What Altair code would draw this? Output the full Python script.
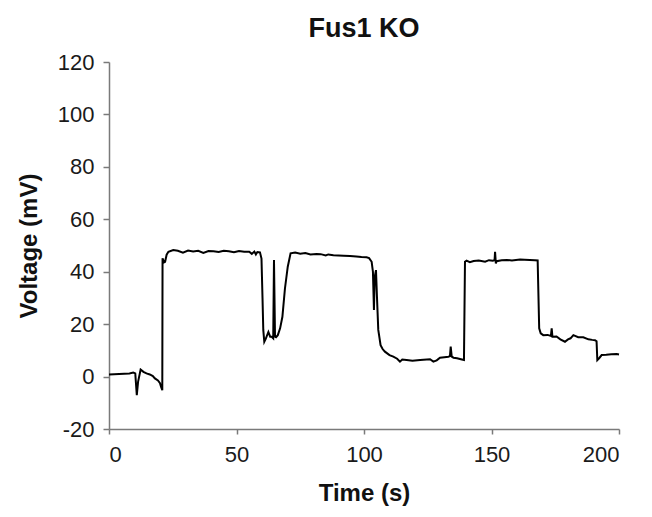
import altair as alt
import pandas as pd

# Time (s) and voltage (mV)
time_s = [0, 2, 4, 6, 8, 9.5, 10.3, 10.9, 11.4, 12.4, 13.5, 14.7, 16.0, 17.2, 18.0, 19.2, 20.0, 20.4, 20.9,
          21.0, 21.6, 22.0, 22.6, 23.3, 25.2, 27, 29, 31, 33, 35, 37, 39, 41, 43, 45, 47, 49, 51, 53, 55,
          56, 57, 57.6, 58.2, 59.2, 59.8, 60.2, 60.5, 60.9, 61.5, 62.5, 63.2, 63.8, 64.4, 64.7, 65.1, 65.5,
          66.2, 67.1, 68.0, 69.0, 70.1, 71.2, 73, 75, 77, 79, 81.4, 83, 85, 86, 88, 90, 92, 94.5, 97, 99,
          101, 102, 103, 103.5, 103.9, 104.2, 104.7, 105.1, 105.6, 106.5, 107.3, 108.2, 110, 111.5, 113,
          114.1, 115, 116.7, 119, 122, 125.9, 127.2, 128.5, 129.8, 131.5, 133.1, 133.7, 134.0, 134.4, 135.1,
          136.5, 138, 139.2, 139.6, 140.2, 141.5, 143, 145, 147.5, 149, 150.5, 151.2, 151.4, 151.7, 152,
          154, 156, 158, 161.2, 163, 165, 167, 168.1, 168.7, 169.3, 170.3, 172, 173.3, 173.6, 173.9, 175.5,
          177, 178.8, 180, 181, 182.1, 184, 186, 188, 189.5, 190.6, 191.2, 191.5, 192.2, 193.2, 195, 197,
          199.1, 200]
voltage_mv = [0.8, 0.9, 1.0, 1.1, 1.2, 1.5, 1.2, -7.1, -2.0, 2.7, 1.8, 1.2, 0.8, 0.2, -0.7, -1.5, -2.5, -3.9, -5.2,
              45.1, 43.6, 43.8, 46.5, 47.6, 48.3, 48.0, 47.3, 48.1, 47.7, 48.0, 47.2, 47.9, 47.8, 47.5, 48.0, 47.8, 47.4,
              47.9, 47.6, 47.6, 46.8, 47.7, 46.6, 47.5, 47.4, 45.0, 30.0, 17.8, 13.3, 14.5, 17.0, 15.2, 15.2, 14.6, 44.5,
              15.2, 15.0, 15.8, 18.4, 22.8, 33.6, 41.9, 47.0, 47.3, 46.9, 47.1, 46.6, 46.8, 46.7, 46.2, 46.6, 46.3, 46.2,
              46.1, 46.0, 45.8, 45.6, 45.5, 45.2, 43.8, 40.0, 25.4, 38.0, 40.6, 30.0, 17.8, 12.0, 10.5, 9.5, 8.2, 7.6,
              6.8, 5.7, 6.5, 6.3, 6.0, 6.3, 6.6, 5.7, 6.2, 7.2, 7.4, 7.6, 7.8, 11.4, 7.6, 7.2, 7.0, 6.6, 6.3, 43.8,
              44.2, 43.6, 44.1, 44.3, 43.8, 44.4, 44.2, 44.4, 47.6, 43.2, 44.0, 44.4, 44.5, 44.3, 44.7, 44.6, 44.5,
              44.4, 44.3, 18.4, 16.5, 15.8, 15.9, 15.5, 18.4, 15.2, 15.3, 14.2, 13.3, 14.2, 14.6, 15.8, 15.0, 15.0,
              14.2, 14.0, 13.9, 13.5, 6.3, 7.0, 8.2, 8.3, 8.5, 8.6, 8.4]

y_ticks = [-20, 0, 20, 40, 60, 80, 100, 120]
x_ticks = [0, 50, 100, 150, 200]

df = pd.DataFrame({"t": time_s, "v": voltage_mv})

FONT = "Liberation Sans"

chart = alt.Chart(df).mark_line(color="black", strokeWidth=2).encode(
    x=alt.X("t:Q", scale=alt.Scale(domain=[0, 200], nice=False),
            axis=alt.Axis(values=x_ticks, title="Time (s)", grid=False, tickSize=5,
                          labelPadding=10, titlePadding=16)),
    y=alt.Y("v:Q", scale=alt.Scale(domain=[-20, 120], nice=False),
            axis=alt.Axis(values=y_ticks, title="Voltage (mV)", grid=False, tickSize=6,
                          labelPadding=9, titlePadding=16, labelExpr="'' + datum.value")),
).properties(
    width=510, height=367,
    title=alt.Title("Fus1 KO", fontSize=27, font=FONT, fontWeight="bold", color="#111", offset=8),
    autosize=alt.AutoSizeParams(type="none"),
    padding={"left": 101, "top": 54, "right": 25, "bottom": 80},
).configure_view(stroke=None).configure_axis(
    domainColor="#7a7a7a", tickColor="#7a7a7a", domainWidth=1.5, tickWidth=1.5,
    labelFont=FONT, labelFontSize=22, labelColor="#1a1a1a",
    titleFont=FONT, titleFontSize=24, titleFontWeight="bold", titleColor="#111",
)

chart.save("out.html", embed_options={"renderer": "svg", "actions": False})
